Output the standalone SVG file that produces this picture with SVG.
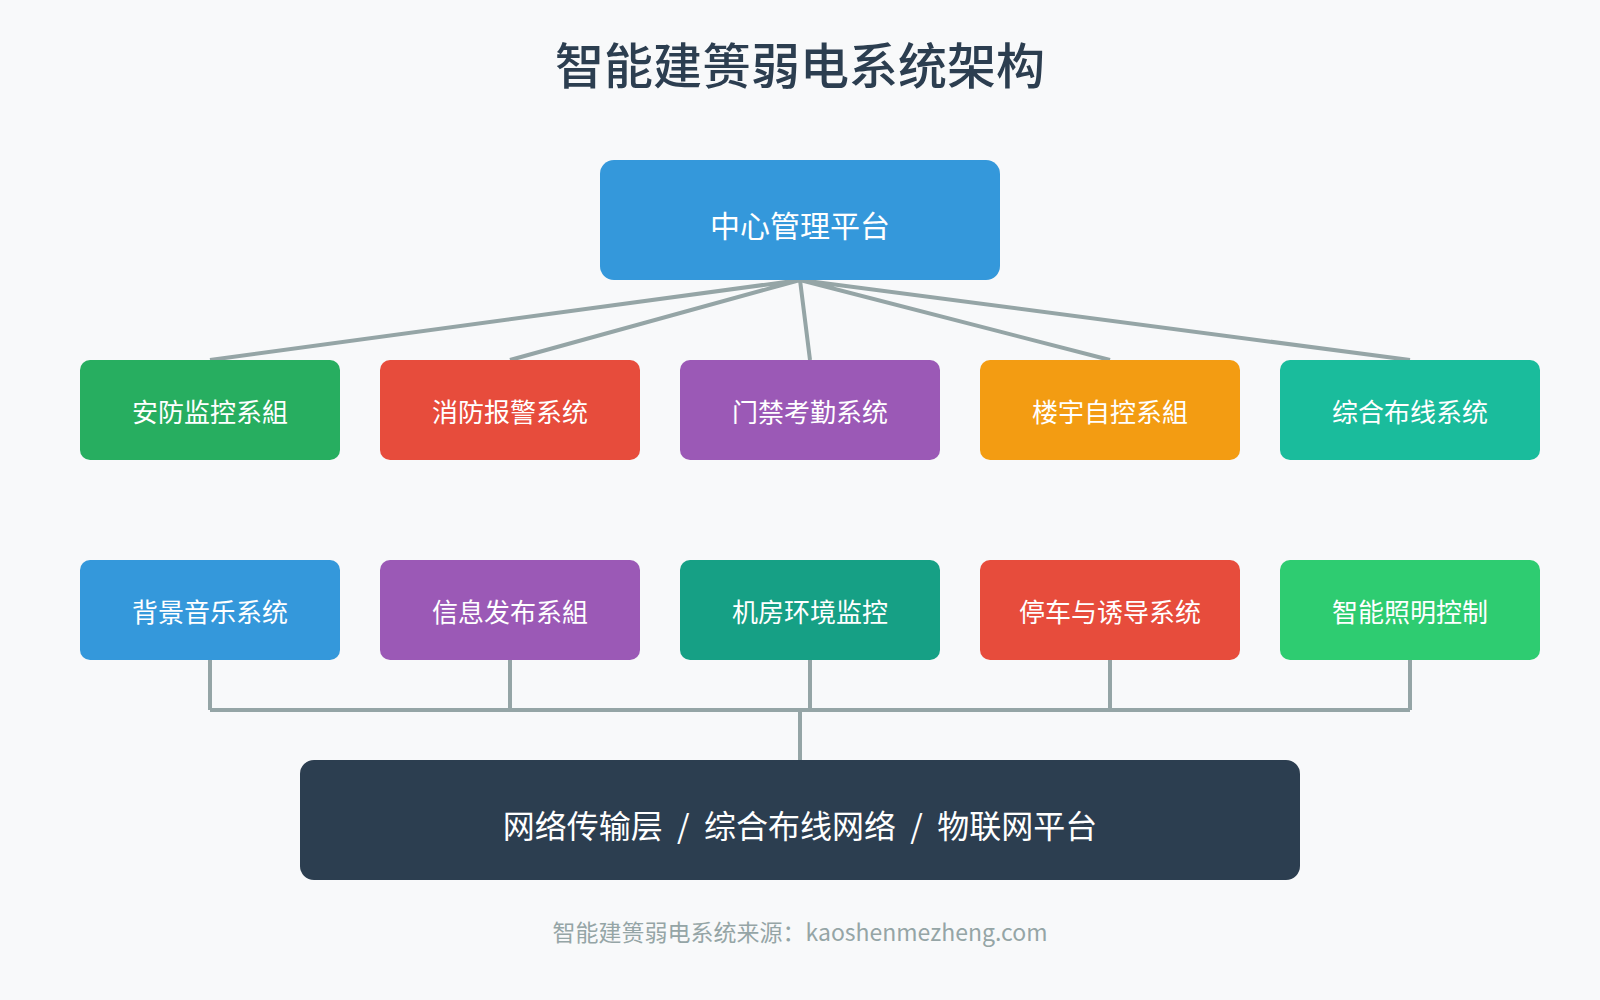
<svg xmlns="http://www.w3.org/2000/svg" width="1600" height="1000" viewBox="0 0 1600 1000">
<style>
text{font-family:"Noto Sans CJK SC","Liberation Sans",sans-serif;text-anchor:middle;dominant-baseline:central;fill:#fff}
.b{font-size:26px}
.ln{stroke:#95a5a6;stroke-width:4;fill:none}
</style>
<rect width="1600" height="1000" fill="#f8f9fa"/>
<text x="800" y="62" font-size="49" font-weight="500" style="fill:#2c3e50">智能建篑弱电系统架构</text>
<g id="connectors">
<path class="ln" d="M800 280L210 360M800 280L510 360M800 280L810 360M800 280L1110 360M800 280L1410 360"/>
<path class="ln" d="M210 660V710M510 660V710M810 660V710M1110 660V710M1410 660V710M210 710H1410M800 710V760"/>
</g>
<g id="center"><rect x="600" y="160" width="400" height="120" rx="14" fill="#3498db"/><text x="800" y="224" font-size="30">中心管理平台</text></g>
<g id="n1"><rect x="80" y="360" width="260" height="100" rx="10" fill="#27ae60"/><text class="b" x="210" y="410">安防监控系組</text></g>
<g id="n2"><rect x="380" y="360" width="260" height="100" rx="10" fill="#e74c3c"/><text class="b" x="510" y="410">消防报警系统</text></g>
<g id="n3"><rect x="680" y="360" width="260" height="100" rx="10" fill="#9b59b6"/><text class="b" x="810" y="410">门禁考勤系统</text></g>
<g id="n4"><rect x="980" y="360" width="260" height="100" rx="10" fill="#f39c12"/><text class="b" x="1110" y="410">楼宇自控系組</text></g>
<g id="n5"><rect x="1280" y="360" width="260" height="100" rx="10" fill="#1abc9c"/><text class="b" x="1410" y="410">综合布线系统</text></g>
<g id="m1"><rect x="80" y="560" width="260" height="100" rx="10" fill="#3498db"/><text class="b" x="210" y="610">背景音乐系统</text></g>
<g id="m2"><rect x="380" y="560" width="260" height="100" rx="10" fill="#9b59b6"/><text class="b" x="510" y="610">信息发布系組</text></g>
<g id="m3"><rect x="680" y="560" width="260" height="100" rx="10" fill="#16a085"/><text class="b" x="810" y="610">机房环境监控</text></g>
<g id="m4"><rect x="980" y="560" width="260" height="100" rx="10" fill="#e74c3c"/><text class="b" x="1110" y="610">停车与诱导系统</text></g>
<g id="m5"><rect x="1280" y="560" width="260" height="100" rx="10" fill="#2ecc71"/><text class="b" x="1410" y="610">智能照明控制</text></g>
<g id="base"><rect x="300" y="760" width="1000" height="120" rx="14" fill="#2c3e50"/><text x="800" y="824" font-size="32" xml:space="preserve">网络传输层  /  综合布线网络  /  物联网平台</text></g>
<text x="800" y="931" font-size="23" style="fill:#95a5a6">智能建篑弱电系统来源：kaoshenmezheng.com</text>
</svg>
